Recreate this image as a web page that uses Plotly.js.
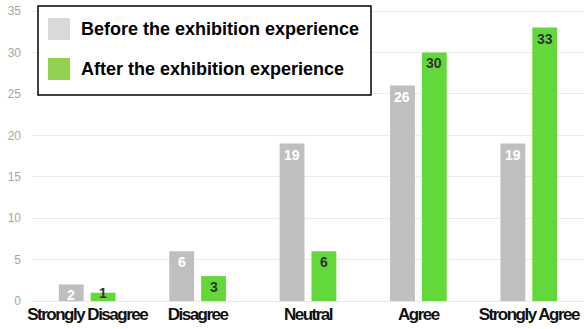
<!DOCTYPE html>
<html>
<head>
<meta charset="utf-8">
<script src="https://cdn.plot.ly/plotly-3.0.1.min.js"></script>
<style>
html,body{margin:0;padding:0;background:#fff;}
#chart{width:584px;height:329px;}
#chart .xtick text{letter-spacing:-1.5px !important;}
</style>
</head>
<body>
<div id="chart"></div>
<script>
const categories = ["Strongly Disagree", "Disagree", "Neutral", "Agree", "Strongly Agree"];
const seriesNames = ["Before the exhibition experience", "After the exhibition experience"];
const beforeValues = [2, 6, 19, 26, 19];
const afterValues = [1, 3, 6, 30, 33];
const yTicks = [0, 5, 10, 15, 20, 25, 30, 35];

const barGray = "#bfbfbf";
const barGreen = "#62d83a";
const legendGray = "#d9d9d9";
const legendGreen = "#92d050";

const traces = [
  {type: "bar", name: seriesNames[0], x: categories, y: beforeValues,
   marker: {color: barGray}, showlegend: false, hoverinfo: "skip"},
  {type: "bar", name: seriesNames[1], x: categories, y: afterValues,
   marker: {color: barGreen}, showlegend: false, hoverinfo: "skip"}
];

const W = 552, H = 301;
const yMax = 36.33;
function px(x){ return (x - 32) / W; }
function py(y){ return (301 - y) / H; }

// value labels placed at the top inside of each bar
const labelFont = {family: "Liberation Sans, Arial, sans-serif", size: 14, weight: "bold"};
const valueAnnotations = [];
[[beforeValues, -16, "#ffffff"], [afterValues, 16, "#333333"]].forEach(([vals, shift, color]) => {
  vals.forEach((v, i) => {
    const barPx = v / yMax * H;
    const tall = barPx >= 15;
    valueAnnotations.push({
      xref: "x", yref: "y", x: categories[i], y: v, xshift: shift,
      yanchor: tall ? "top" : "middle", yshift: tall ? -1 : 0,
      text: String(v), showarrow: false,
      font: Object.assign({}, labelFont, {color: color})
    });
  });
});

const layout = {
  width: 584, height: 329,
  margin: {l: 32, r: 0, t: 0, b: 28},
  paper_bgcolor: "#ffffff", plot_bgcolor: "#ffffff",
  barmode: "group", bargap: 0.423, bargroupgap: 0.22,
  showlegend: false,
  xaxis: {
    tickangle: 0,
    tickfont: {family: "Liberation Sans, Arial, sans-serif", size: 17, color: "#111111", weight: "bold"},
    showgrid: false, zeroline: false, showline: false, ticks: "", ticklen: 0, ticklabelstandoff: 1
  },
  yaxis: {
    range: [0, yMax], tickvals: yTicks, ticktext: yTicks.map(String),
    tickfont: {family: "Liberation Sans, Arial, sans-serif", size: 12, color: "#a6a6a6"},
    showgrid: true, gridcolor: "#ececec", gridwidth: 1, zeroline: true, zerolinecolor: "#e6e6e6",
    ticks: "", ticklabelstandoff: 10, fixedrange: true
  },
  shapes: [
    {type: "rect", xref: "paper", yref: "paper", x0: px(38), x1: px(371), y0: py(95), y1: py(6),
     line: {color: "#000000", width: 1.5}, fillcolor: "#ffffff", layer: "above"},
    {type: "rect", xref: "paper", yref: "paper", x0: px(48), x1: px(70), y0: py(40), y1: py(18),
     line: {width: 0}, fillcolor: legendGray, layer: "above"},
    {type: "rect", xref: "paper", yref: "paper", x0: px(48), x1: px(70), y0: py(80), y1: py(58),
     line: {width: 0}, fillcolor: legendGreen, layer: "above"}
  ],
  annotations: valueAnnotations.concat([
    {xref: "paper", yref: "paper", x: px(79), y: py(29), xanchor: "left", yanchor: "middle",
     text: seriesNames[0], showarrow: false,
     font: {family: "Liberation Sans, Arial, sans-serif", size: 18, color: "#000000", weight: "bold"}},
    {xref: "paper", yref: "paper", x: px(79), y: py(69), xanchor: "left", yanchor: "middle",
     text: seriesNames[1], showarrow: false,
     font: {family: "Liberation Sans, Arial, sans-serif", size: 18, color: "#000000", weight: "bold"}}
  ])
};

Plotly.newPlot("chart", traces, layout, {displayModeBar: false, staticPlot: true});
</script>
</body>
</html>
